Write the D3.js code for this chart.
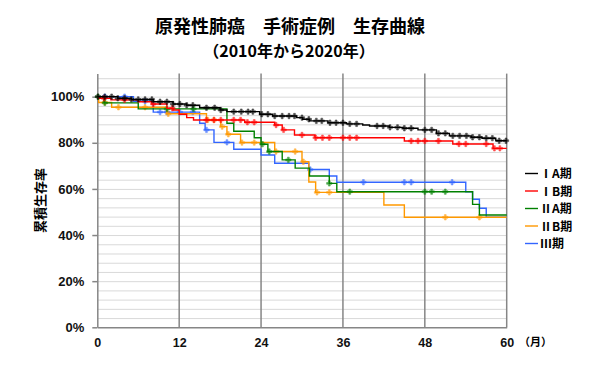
<!DOCTYPE html>
<html>
<head>
<meta charset="utf-8">
<script src="https://cdn.jsdelivr.net/npm/d3@7"></script>
<style>
  body { margin: 0; background: #fff; }
  svg { display: block; }
</style>
</head>
<body>
<script>
// survival steps [month, %] and censor months
var stageIA = [[0,100],[3,99.3],[5,98.8],[8.2,97.8],[11.1,96.8],[13.1,96.3],[15,95.2],[18,94.2],[19,93.5],[23.8,92.4],[25.7,91.6],[29.2,90.9],[30.1,90.2],[31.1,89.5],[33.8,88.7],[36.5,88.2],[38.9,87.7],[39.9,87.3],[42.8,86.7],[44.8,86.3],[47,85.6],[49.7,84.1],[51.6,83],[54.8,82.4],[56.4,82],[58.4,80.9]];
var censorIA = [0.1,1.1,2.1,3,4,5,6,7,8,9.2,10.2,11.1,12.1,13.1,14,16,17.2,18.1,20,21.1,22.1,22.8,24.1,25,26,27.1,28.1,28.9,30,31,32.1,32.9,34.1,35,36,37,38,41,41.9,42.9,44,45,46,48,49,50,51,52.1,53.1,54.1,55,56,57,57.9,58.9,59.9];

var stageIB = [[0,100],[0.3,99.3],[2,98.6],[6,97.8],[8,96.8],[10.2,95],[11.1,94.2],[12,92.4],[13.1,90.9],[14.1,89.9],[21.6,88.9],[26,87.7],[27.1,85.6],[28.9,83.4],[31.9,82.2],[45,80.8],[52.1,79.5],[58,77.6]];
var censorIB = [1,4,8.2,11,16,17.1,18.1,20,21,22,23,26.2,27.3,30,32,33,34,36,37,38,46,47,48,50,53,54,57,58.2,59];

var stageIIA = [[0,100],[1,97.3],[6,94.7],[19,88.5],[20,85],[23,82.2],[24,79.4],[25,76.2],[27.1,72.6],[29,69],[31.1,65.6],[34,62.4],[35.1,58.8],[55,53.3],[56,48.7]];
var censorIIA = [0.1,1.1,10.2,14.1,24.2,25.2,28,34,37,48,49,51];

var stageIIB = [[0,100],[0.2,97.5],[2.1,95.4],[10.2,92.6],[16,89.9],[18.1,87],[19,83.7],[21,80.1],[26,76.2],[30,71.8],[31,63],[32,58.5],[42,53],[45,47.7]];
var censorIIB = [1.1,3.1,7,10.4,16.2,17.1,18.3,19.2,21.2,23,26.2,29,30.2,32.2,34,51,56];

var stageIII = [[0,100],[5.3,98],[8.2,93.3],[15,88.5],[15.8,85.6],[17.1,80.2],[20,77.2],[24,74.7],[26,71.1],[31,68.4],[34,65.6],[35.1,62.9],[54,58.8],[55,55.5],[56,51.6],[57,47.7]];
var censorIII = [1.1,4,7,9.2,10.2,12.1,14,16,19,31.2,39,45,46,52];

var seriesNames = ["ⅠA期","ⅠB期","ⅡA期","ⅡB期","Ⅲ期"];
var xTicks = [0,12,24,36,48,60];
var yTicks = [0,20,40,60,80,100];

var colors = ["#000000","#ff0000","#008000","#ff9900","#3366ff"];
var series = [
  {name: seriesNames[0], steps: stageIA, censor: censorIA, color: colors[0]},
  {name: seriesNames[1], steps: stageIB, censor: censorIB, color: colors[1]},
  {name: seriesNames[2], steps: stageIIA, censor: censorIIA, color: colors[2]},
  {name: seriesNames[3], steps: stageIIB, censor: censorIIB, color: colors[3]},
  {name: seriesNames[4], steps: stageIII, censor: censorIII, color: colors[4]}
];

var width = 600, height = 375;
var x = d3.scaleLinear().domain([0, 60]).range([97.3, 506.7]);
var y = d3.scaleLinear().domain([0, 110]).range([327.3, 73.6]);

var svg = d3.select("body").append("svg")
    .attr("width", width)
    .attr("height", height);

var cjk = "'Noto Sans CJK JP', 'Noto Sans', sans-serif";
var num = "'Liberation Sans', Arial, sans-serif";

// title
svg.append("text")
    .attr("x", 290).attr("y", 33)
    .attr("text-anchor", "middle")
    .attr("font-family", cjk).attr("font-weight", "bold").attr("font-size", 18)
    .text("原発性肺癌　手術症例　生存曲線");
svg.append("text")
    .attr("x", 289).attr("y", 57)
    .attr("text-anchor", "middle")
    .attr("font-family", cjk).attr("font-weight", "bold").attr("font-size", 16)
    .text("（2010年から2020年）");

// horizontal grid every 4%
var hgrid = d3.range(4, 109, 4);
svg.append("g").selectAll("line")
    .data(hgrid)
    .enter().append("line")
    .attr("x1", x(0)).attr("x2", x(60))
    .attr("y1", function(d){ return y(d) + 0.5; })
    .attr("y2", function(d){ return y(d) + 0.5; })
    .attr("stroke", "#d9d9d9").attr("stroke-width", 1);

// vertical grid
svg.append("g").selectAll("line")
    .data(xTicks.slice(1))
    .enter().append("line")
    .attr("x1", function(d){ return x(d); })
    .attr("x2", function(d){ return x(d); })
    .attr("y1", y(110)).attr("y2", y(0))
    .attr("stroke", "#868686").attr("stroke-width", 1.5);

// axes
var yAxis = d3.axisLeft(y)
    .tickValues(yTicks)
    .tickSize(5).tickSizeOuter(0).tickPadding(8)
    .tickFormat(function(d){ return d + "%"; });
var gy = svg.append("g")
    .attr("transform", "translate(" + x(0) + ",0)")
    .call(yAxis);
gy.select(".domain").attr("stroke", "#868686").attr("stroke-width", 1.5);
gy.selectAll(".tick line").attr("stroke", "#868686").attr("stroke-width", 1.5);
gy.selectAll(".tick text")
    .attr("font-family", num).attr("font-weight", "bold").attr("font-size", 13)
    .attr("fill", "#111");

var xAxis = d3.axisBottom(x)
    .tickValues(xTicks)
    .tickSize(0).tickSizeOuter(0);
var gx = svg.append("g")
    .attr("transform", "translate(0," + y(0) + ")")
    .call(xAxis);
gx.select(".domain").attr("stroke", "#868686").attr("stroke-width", 1.5);
gx.selectAll(".tick text")
    .attr("dy", null).attr("y", 20)
    .attr("font-family", num).attr("font-weight", "bold").attr("font-size", 12.5)
    .attr("fill", "#111");

svg.append("text")
    .attr("x", 519).attr("y", 346)
    .attr("font-family", cjk).attr("font-weight", "bold").attr("font-size", 11)
    .text("（月）");

// y title
svg.append("text")
    .attr("transform", "translate(45," + y(55) + ") rotate(-90)")
    .attr("text-anchor", "middle")
    .attr("font-family", cjk).attr("font-weight", "bold").attr("font-size", 13)
    .text("累積生存率");

// curves
var line = d3.line()
    .curve(d3.curveStepAfter)
    .x(function(d){ return x(d[0]); })
    .y(function(d){ return y(d[1]); });

function survAt(steps, t) {
    var s = steps[0][1];
    for (var i = 0; i < steps.length; i++) {
        if (steps[i][0] <= t) s = steps[i][1];
    }
    return s;
}

var drawOrder = series.slice().reverse();
drawOrder.forEach(function(s) {
    var pts = s.steps.concat([[60, s.steps[s.steps.length - 1][1]]]);
    svg.append("path")
        .datum(pts)
        .attr("d", line)
        .attr("fill", "none")
        .attr("stroke", s.color)
        .attr("stroke-width", 1.4);
    svg.append("g").selectAll("path")
        .data(s.censor)
        .enter().append("path")
        .attr("transform", function(t){
            return "translate(" + x(t) + "," + y(survAt(s.steps, t)) + ")";
        })
        .attr("d", d3.symbol().type(d3.symbolCross).size(16))
        .attr("fill", s.color)
        .attr("stroke", s.color)
        .attr("stroke-width", 0.6)
        .attr("opacity", 0.7);
});

// legend
var legend = svg.append("g").selectAll("g")
    .data(series)
    .enter().append("g")
    .attr("transform", function(d, i){ return "translate(525," + (173.5 + i * 17.5) + ")"; });
legend.append("line")
    .attr("x1", 0).attr("x2", 13)
    .attr("stroke", function(d){ return d.color; })
    .attr("stroke-width", 1.4);
legend.append("text")
    .attr("x", 15).attr("y", 4.5)
    .attr("font-family", cjk).attr("font-weight", "bold").attr("font-size", 12)
    .text(function(d){ return d.name; });
</script>
</body>
</html>
